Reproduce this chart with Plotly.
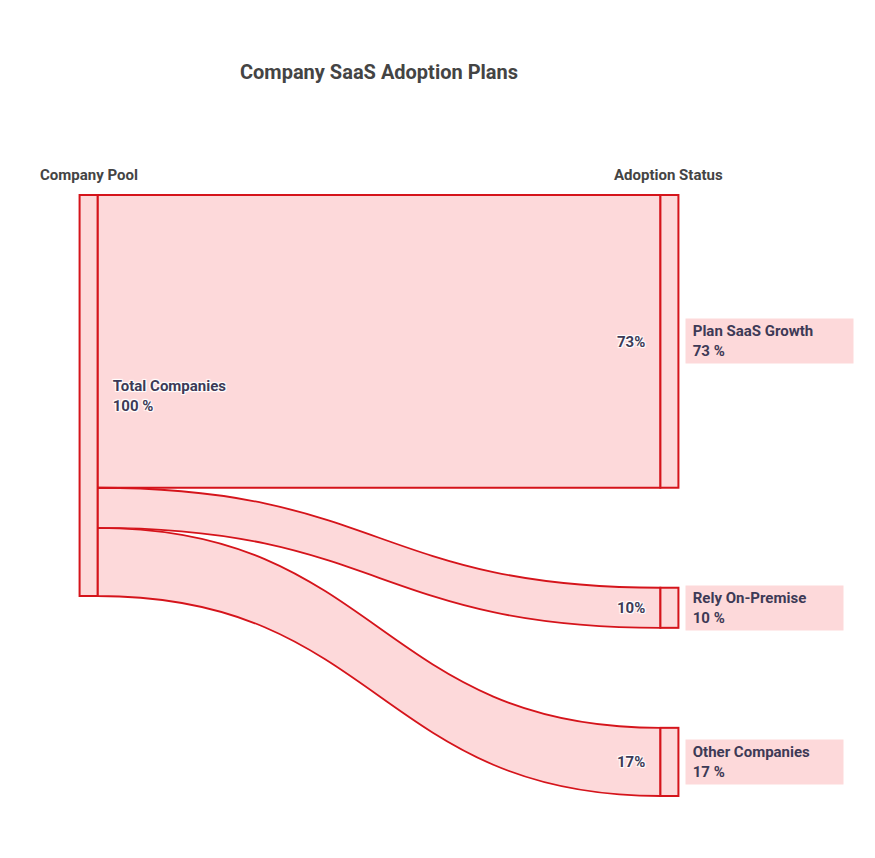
import plotly.graph_objects as go

# DATA
source_label = "Total Companies"
target_labels = ["Plan SaaS Growth", "Rely On-Premise", "Other Companies"]
shares = [73, 10, 17]
column_titles = ["Company Pool", "Adoption Status"]

FILL = "#fdd9da"
EDGE = "#d5141b"
TEXT = "#3d3a56"
NB = "\u00a0"

W, H = 875, 858
OFF = 8  # page margin of the browser
def px_x(p):
    return (p - OFF) / W
def px_y(p):
    return 1 - (p - OFF) / H

dom_x = [px_x(88), px_x(670)]
dom_y = [px_y(796), px_y(195)]
pad = 100

# node centres as fractions of the sankey domain, derived from the values
dom_h = (dom_y[1] - dom_y[0]) * H
scale = (dom_h - pad * (len(shares) - 1)) / sum(shares)
centres = []
top = 0
for v in shares:
    centres.append((top + v * scale / 2) / dom_h)
    top += v * scale + pad
src_centre = (sum(shares) * scale / 2) / dom_h

node_labels = [f"<b>{NB * 3}{source_label}</b><br><b>{NB * 3}{sum(shares)} %</b>"] + \
              [f"<b>{v}%{NB * 3}</b>" for v in shares]

fig = go.Figure(go.Sankey(
    arrangement="fixed",
    domain={"x": dom_x, "y": dom_y},
    node={
        "label": node_labels,
        "x": [0.001] + [0.999] * len(shares),
        "y": [src_centre] + centres,
        "pad": pad,
        "thickness": 18,
        "color": FILL,
        "line": {"color": EDGE, "width": 2},
    },
    link={
        "source": [0] * len(shares),
        "target": list(range(1, len(shares) + 1)),
        "value": shares,
        "color": FILL,
        "line": {"color": EDGE, "width": 1.8},
    },
    textfont={"family": "Roboto", "size": 15, "color": TEXT},
    hoverinfo="none",
))

# boxed labels right of the target nodes
for name, v, c in zip(target_labels, shares, centres):
    fig.add_annotation(
        xref="paper", yref="paper",
        x=px_x(685), y=dom_y[1] - c * (dom_y[1] - dom_y[0]),
        xanchor="left", yanchor="middle",
        text=f"<b>{NB}{name}</b><br><b>{NB}{v} %</b>",
        align="left", showarrow=False,
        width=161 if v == max(shares) else 151,
        bgcolor=FILL, borderpad=3,
        font={"family": "Roboto", "size": 15, "color": TEXT},
    )

for t, x, anchor in zip(column_titles, [px_x(38), px_x(725)], ["left", "right"]):
    fig.add_annotation(
        xref="paper", yref="paper", x=x, y=px_y(175),
        xanchor=anchor, yanchor="middle", showarrow=False,
        text=f"<b>{t}</b>",
        font={"family": "Roboto", "size": 15, "color": "#444444"},
    )

fig.update_layout(
    width=W, height=H,
    title={"text": "<b>Company SaaS Adoption Plans</b>", "x": px_x(379), "xanchor": "center",
           "y": px_y(72), "yanchor": "middle",
           "font": {"family": "Roboto", "size": 20, "color": "#444444"}},
    margin={"l": 0, "r": 0, "t": 0, "b": 0},
    paper_bgcolor="white",
    plot_bgcolor="white",
)

fig.write_html("out.html")
